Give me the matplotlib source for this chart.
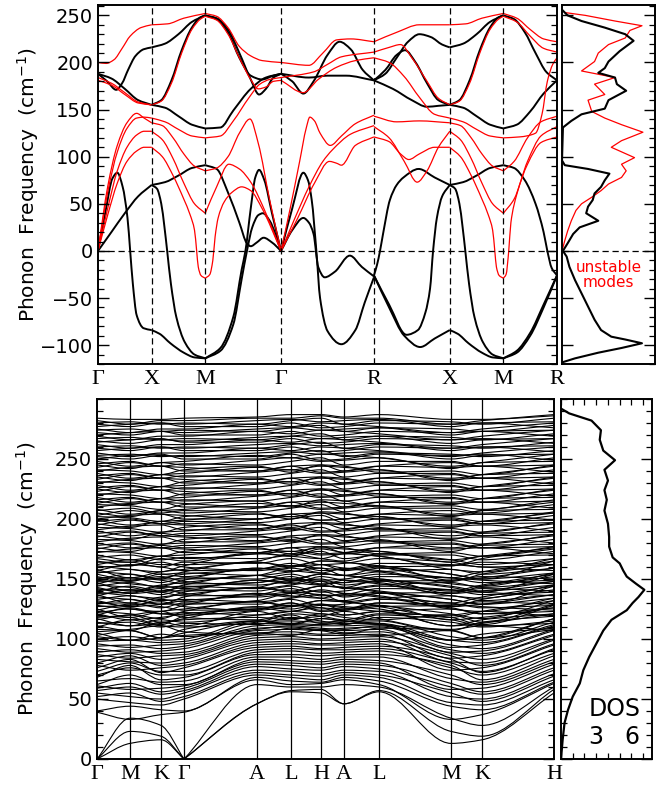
import numpy as np
import matplotlib
matplotlib.use("Agg")
import matplotlib.pyplot as plt
from matplotlib.path import Path
from matplotlib.patches import PathPatch
from matplotlib.ticker import MultipleLocator, FixedLocator

# ---------------- top panel: cubic path, two calculations ----------------
top_labels = ["Γ", "X", "M", "Γ", "R", "X", "M", "R"]
top_ticks = [0.0, 0.5, 1.0, 1.707, 2.573, 3.280, 3.780, 4.280]

# each band: (fraction along segment, frequency cm-1)
gx_black = [
    [(0, 188), (0.17, 180), (0.34, 171), (0.45, 178), (0.56, 192), (0.7, 207), (0.85, 214), (1, 216)],
    [(0, 188), (0.25, 183), (0.5, 172), (0.75, 160), (1, 155)],
    [(0, 0), (0.14, 42), (0.27, 77), (0.36, 83), (0.46, 68), (0.55, 35), (0.6, 0), (0.65, -35),
     (0.72, -68), (0.85, -82), (1, -84)],
    [(0, 0), (0.25, 20), (0.5, 40), (0.75, 58), (1, 70)],
]
gx_red = [
    [(0, 200), (0.15, 199), (0.3, 203), (0.45, 215), (0.6, 228), (0.8, 237), (1, 240)],
    [(0, 184), (0.25, 178), (0.5, 168), (0.75, 158), (1, 155)],
    [(0, 181), (0.25, 176), (0.5, 166), (0.75, 157), (1, 155)],
    [(0, 0), (0.18, 68), (0.36, 112), (0.54, 136), (0.72, 146), (0.86, 141), (1, 136)],
    [(0, 0), (0.18, 62), (0.36, 105), (0.54, 130), (0.72, 141), (0.86, 142), (1, 141)],
    [(0, 0), (0.18, 45), (0.36, 85), (0.54, 110), (0.72, 123), (0.86, 127), (1, 127)],
    [(0, 0), (0.18, 38), (0.36, 72), (0.54, 95), (0.72, 106), (0.86, 110), (1, 110)],
]
xm_black = [
    [(0, 216), (0.25, 220), (0.5, 230), (0.75, 243), (1, 250)],
    [(0, 155), (0.18, 160), (0.37, 181), (0.56, 213), (0.75, 237), (0.91, 248), (1, 250)],
    [(0, 155), (0.25, 152), (0.5, 143), (0.75, 134), (1, 130)],
    [(0, 70), (0.25, 73), (0.5, 80), (0.75, 88), (1, 91)],
    [(0, 70), (0.1, 66), (0.18, 50), (0.24, 25), (0.29, 0), (0.36, -35), (0.46, -70), (0.62, -97),
     (0.8, -110), (1, -114)],
    [(0, -84), (0.15, -88), (0.35, -98), (0.6, -108), (0.8, -113), (1, -114)],
]
xm_red = [
    [(0, 240), (0.3, 241), (0.6, 247), (1, 252)],
    [(0, 155), (0.18, 159), (0.37, 178), (0.56, 210), (0.75, 235), (0.91, 246), (1, 249)],
    [(0, 141), (0.25, 137), (0.5, 129), (0.75, 122), (1, 120)],
    [(0, 136), (0.2, 133), (0.4, 120), (0.6, 103), (0.8, 90), (1, 85)],
    [(0, 127), (0.2, 118), (0.4, 98), (0.6, 72), (0.8, 50), (1, 40)],
    [(0, 110), (0.2, 100), (0.4, 80), (0.6, 55), (0.72, 38), (0.8, 22), (0.84, 0), (0.87, -17),
     (0.92, -26), (1, -29)],
]
mg_black = [
    [(0, 250), (0.15, 247), (0.3, 235), (0.45, 210), (0.6, 182), (0.71, 166), (0.8, 172), (0.9, 184), (1, 188)],
    [(0, 250), (0.15, 246), (0.3, 232), (0.45, 205), (0.6, 186), (0.75, 182), (0.9, 186), (1, 188)],
    [(0, 130), (0.2, 131), (0.37, 149), (0.6, 172), (0.8, 184), (1, 188)],
    [(0, 91), (0.15, 87), (0.3, 62), (0.45, 30), (0.55, 8), (0.6, 5), (0.68, 9), (0.77, 14), (0.88, 9), (1, 0)],
    [(0, -114), (0.2, -103), (0.37, -70), (0.48, -20), (0.53, 0), (0.6, 45), (0.66, 78), (0.71, 86),
     (0.78, 75), (0.88, 40), (1, 0)],
    [(0, -114), (0.2, -106), (0.37, -78), (0.48, -30), (0.55, 0), (0.62, 25), (0.7, 38), (0.76, 40),
     (0.85, 32), (1, 0)],
]
mg_red = [
    [(0, 252), (0.15, 249), (0.3, 237), (0.45, 217), (0.6, 207), (0.75, 202), (1, 200)],
    [(0, 249), (0.15, 245), (0.3, 230), (0.45, 205), (0.6, 182), (0.7, 172), (0.8, 174), (0.9, 180), (1, 181)],
    [(0, 120), (0.2, 122), (0.37, 138), (0.58, 163), (0.72, 177), (0.85, 182), (1, 184)],
    [(0, 85), (0.15, 88), (0.3, 100), (0.45, 125), (0.59, 140), (0.7, 114), (0.85, 54), (1, 0)],
    [(0, 40), (0.15, 68), (0.31, 92), (0.45, 87), (0.6, 73), (0.8, 40), (1, 0)],
    [(0, -29), (0.06, -25), (0.1, -10), (0.13, 15), (0.17, 35), (0.25, 52), (0.35, 62), (0.48, 68),
     (0.6, 64), (0.75, 45), (1, 0)],
]
gr_black = [
    [(0, 188), (0.3, 184), (0.5, 186), (0.7, 186), (1, 181)],
    [(0, 188), (0.12, 180), (0.24, 167), (0.35, 180), (0.5, 208), (0.63, 222), (0.75, 214), (0.88, 192), (1, 181)],
    [(0, 0), (0.12, 45), (0.24, 83), (0.29, 75), (0.33, 54), (0.38, 0), (0.42, -50), (0.5, -85),
     (0.65, -99), (0.8, -84), (0.9, -55), (1, -28)],
    [(0, 0), (0.12, 22), (0.24, 35), (0.3, 30), (0.35, 18), (0.4, -17), (0.47, -28), (0.58, -22),
     (0.74, -5), (0.87, -17), (1, -27)],
]
gr_red = [
    [(0, 200), (0.3, 197), (0.45, 210), (0.6, 224), (0.75, 225), (1, 222)],
    [(0, 184), (0.35, 190), (0.5, 198), (0.65, 206), (1, 211)],
    [(0, 181), (0.24, 168), (0.4, 182), (0.6, 195), (0.8, 202), (1, 205)],
    [(0, 0), (0.1, 46), (0.2, 95), (0.27, 130), (0.31, 142), (0.36, 138), (0.42, 125), (0.53, 112),
     (0.65, 122), (0.8, 135), (1, 144)],
    [(0, 0), (0.15, 35), (0.3, 68), (0.45, 95), (0.55, 107), (0.75, 124), (1, 133)],
    [(0, 0), (0.18, 35), (0.36, 72), (0.52, 95), (0.6, 93), (0.65, 91), (0.8, 112), (1, 121)],
]
rx_black = [
    [(0, 181), (0.15, 188), (0.3, 205), (0.45, 222), (0.6, 230), (0.75, 227), (0.9, 219), (1, 216)],
    [(0, 181), (0.15, 192), (0.3, 208), (0.41, 213), (0.55, 200), (0.7, 178), (0.85, 160), (1, 155)],
    [(0, 181), (0.25, 172), (0.5, 160), (0.7, 153), (0.85, 154), (1, 155)],
    [(0, -26), (0.04, -15), (0.08, 0), (0.12, 18), (0.21, 54), (0.3, 70), (0.39, 78), (0.59, 87),
     (0.8, 78), (1, 70)],
    [(0, -26), (0.2, -57), (0.43, -89), (0.58, -84), (0.68, -65), (0.74, -40), (0.78, 0), (0.83, 35),
     (0.9, 58), (1, 70)],
    [(0, -26), (0.2, -60), (0.4, -90), (0.61, -102), (0.8, -93), (1, -84)],
]
rx_red = [
    [(0, 222), (0.3, 232), (0.6, 240), (1, 240)],
    [(0, 211), (0.2, 216), (0.35, 219), (0.5, 205), (0.7, 180), (0.85, 162), (1, 155)],
    [(0, 205), (0.2, 200), (0.4, 185), (0.6, 163), (0.8, 145), (1, 141)],
    [(0, 143), (0.3, 137), (0.6, 138), (1, 136)],
    [(0, 132), (0.2, 120), (0.4, 95), (0.57, 73), (0.7, 85), (0.85, 110), (1, 127)],
    [(0, 121), (0.2, 116), (0.35, 103), (0.46, 97), (0.6, 103), (0.8, 110), (1, 110)],
]
mr_black = [
    [(0, 250), (0.2, 246), (0.4, 232), (0.6, 210), (0.8, 190), (1, 181)],
    [(0, 130), (0.25, 134), (0.5, 148), (0.75, 167), (1, 181)],
    [(0, 91), (0.2, 88), (0.4, 75), (0.6, 50), (0.75, 20), (0.82, 0), (0.9, -18), (1, -26)],
    [(0, -114), (0.25, -108), (0.5, -90), (0.75, -60), (1, -26)],
    [(0, -114), (0.25, -106), (0.5, -87), (0.75, -57), (1, -26)],
]
mr_red = [
    [(0, 252), (0.25, 247), (0.5, 235), (0.75, 225), (1, 222)],
    [(0, 249), (0.25, 243), (0.5, 228), (0.75, 215), (1, 211)],
    [(0, 120), (0.3, 121), (0.6, 125), (0.72, 145), (0.82, 180), (0.92, 198), (1, 205)],
    [(0, 85), (0.2, 95), (0.45, 120), (0.7, 137), (1, 143)],
    [(0, 40), (0.2, 55), (0.45, 95), (0.7, 122), (1, 132)],
    [(0, -29), (0.05, -25), (0.1, 0), (0.14, 30), (0.25, 60), (0.45, 92), (0.7, 115), (1, 121)],
]
top_segments = [(gx_black, gx_red), (xm_black, xm_red), (mg_black, mg_red), (gr_black, gr_red),
                (rx_black, rx_red), (xm_black, xm_red), (mr_black, mr_red)]

# top DOS (arb. units)
dos_top_freq_black = [-118, -114, -108, -103, -98, -94, -91, -84, -73, -59, -45, -31, -17, -6, 0, 8, 18,
                      25, 32, 40, 47, 54, 61, 68, 75, 82, 87, 91, 96, 131, 138, 145, 151, 160, 170,
                      177, 184, 189, 194, 201, 212, 223, 230, 237, 244, 250, 255]
dos_top_black = [0.1, 1.4, 3.9, 6.4, 8.6, 6.8, 5.3, 4.2, 3.5, 2.8, 2.1, 1.4, 0.8, 0.5, 0.1, 0.6, 1.2,
                 1.9, 3.9, 2.6, 2.8, 3.3, 3.5, 4.2, 4.6, 5.1, 2.8, 0.3, 0, 0.1, 1.0, 2.1, 4.6, 5.0, 6.9,
                 5.9, 5.7, 3.9, 4.6, 5.0, 6.2, 7.7, 6.8, 4.6, 2.1, 0.6, 0.1]
dos_top_freq_red = [0, 11, 21, 32, 43, 50, 57, 64, 71, 78, 85, 92, 99, 110, 117, 126, 134, 141, 148,
                    160, 166, 177, 184, 191, 201, 210, 219, 226, 234, 239, 244, 250, 253]
dos_top_red = [0, 0.3, 0.6, 1.0, 1.5, 2.1, 3.2, 4.2, 5.0, 6.4, 6.9, 6.4, 7.8, 5.3, 6.4, 8.7, 6.4, 4.6,
               3.2, 2.8, 4.6, 3.5, 5.7, 2.1, 3.5, 3.9, 5.0, 6.8, 7.3, 8.6, 5.7, 2.5, 0.3]

# ---------------- bottom panel: hexagonal path ----------------
bot_labels = ["Γ", "M", "K", "Γ", "A", "L", "H", "A", "L", "M", "K", "H"]
bot_ticks = [0, 33, 64, 87, 160, 194, 224, 247, 282, 354, 385, 457]
# band frequencies at (Γ, M, K, A, L, H)
hex_bands = [
    (0, 13, 16, 46, 56, 55), (0, 23, 19, 46, 57, 58), (0, 34, 28, 62, 60, 60),
    (39, 33, 37, 66, 62, 63), (40, 44, 41, 68, 65, 64), (50, 47, 45, 70, 68, 66),
    (52, 55, 48, 72, 70, 69), (55, 52, 50, 74, 73, 71), (57, 60, 54, 77, 75, 74),
    (59, 63, 56, 79, 78, 76), (61, 58, 59, 81, 80, 79), (62, 70, 62, 83, 82, 81),
    (65, 67, 64, 85, 85, 83), (68, 78, 66, 87, 87, 86), (70, 76, 70, 89, 90, 88),
    (73, 80, 73, 91, 92, 91),
    (76, 83, 72, 93, 94, 92), (78, 74, 76, 95, 96, 95), (80, 86, 78, 97, 98, 96),
    (83, 81, 80, 99, 100, 99), (85, 88, 83, 101, 102, 100), (87, 84, 86, 103, 104, 103),
    (89, 91, 88, 105, 106, 104), (92, 89, 90, 107, 108, 107), (94, 95, 92, 109, 110, 108),
    (96, 93, 95, 111, 112, 111), (98, 99, 97, 113, 113, 112), (100, 102, 99, 115, 115, 114),
    (102, 99, 104, 108, 111, 109), (103, 107, 101, 105, 103, 108), (105, 99, 101, 115, 113, 117),
    (106, 108, 111, 104, 109, 107), (108, 107, 101, 115, 112, 117), (110, 116, 111, 114, 120, 113),
    (111, 107, 114, 123, 117, 119), (113, 114, 110, 112, 118, 115), (114, 111, 116, 120, 123, 121),
    (116, 120, 114, 118, 116, 121), (117, 111, 113, 127, 125, 129), (118, 120, 123, 116, 121, 119),
    (119, 118, 112, 126, 123, 128), (120, 126, 121, 124, 130, 123),
    (121, 116, 118, 125, 128, 126), (122, 125, 121, 120, 123, 126), (123, 121, 117, 131, 128, 132),
    (124, 129, 127, 125, 130, 124), (125, 118, 123, 131, 127, 132), (127, 128, 131, 124, 127, 129),
    (128, 125, 123, 138, 136, 134), (129, 133, 129, 132, 138, 134), (130, 130, 126, 129, 133, 128),
    (131, 127, 133, 138, 135, 141), (132, 127, 129, 136, 139, 137), (133, 136, 132, 131, 134, 137),
    (135, 133, 129, 143, 140, 144), (136, 141, 139, 137, 142, 136), (137, 130, 135, 143, 139, 144),
    (138, 139, 142, 135, 138, 140), (139, 136, 134, 149, 147, 145), (140, 144, 140, 143, 149, 145),
    (141, 141, 137, 140, 144, 139), (142, 138, 144, 149, 146, 152), (143, 138, 140, 147, 150, 148),
    (144, 147, 143, 142, 145, 148), (145, 143, 139, 153, 150, 154), (146, 151, 149, 147, 152, 146),
    (147, 140, 145, 153, 149, 154), (148, 149, 152, 145, 148, 150), (149, 146, 144, 159, 157, 155),
    (150, 154, 150, 153, 159, 155), (151, 151, 147, 150, 154, 149), (152, 148, 154, 159, 156, 162),
    (154, 149, 151, 158, 161, 159), (155, 158, 154, 153, 156, 159), (156, 154, 150, 164, 161, 165),
    (157, 162, 160, 158, 163, 157), (158, 151, 156, 164, 160, 165), (160, 161, 164, 157, 160, 162),
    (161, 158, 156, 171, 169, 167), (162, 166, 162, 165, 171, 167), (164, 164, 160, 163, 167, 162),
    (165, 161, 167, 172, 169, 175),
    (167, 164, 169, 171, 173, 170), (168, 170, 166, 167, 170, 173), (170, 166, 169, 175, 173, 176),
    (172, 175, 176, 172, 176, 171), (173, 172, 169, 176, 171, 177), (175, 179, 176, 172, 176, 177),
    (176, 173, 178, 180, 182, 179), (178, 180, 176, 177, 180, 183), (180, 176, 179, 185, 183, 186),
    (181, 184, 185, 181, 185, 180), (183, 182, 179, 186, 181, 187), (185, 189, 186, 182, 186, 187),
    (186, 183, 188, 190, 192, 189), (188, 190, 186, 187, 190, 193), (190, 186, 189, 195, 193, 196),
    (191, 194, 195, 191, 195, 190), (193, 192, 189, 196, 191, 197), (195, 199, 196, 192, 196, 197),
    (196, 193, 198, 200, 202, 199), (198, 200, 196, 197, 200, 203), (199, 195, 198, 204, 202, 205),
    (200, 203, 204, 200, 204, 199),
    (202, 201, 198, 205, 200, 206), (203, 207, 204, 200, 204, 205), (205, 202, 207, 209, 211, 208),
    (207, 209, 205, 206, 209, 212), (208, 204, 207, 213, 211, 214), (210, 213, 214, 210, 214, 209),
    (212, 211, 208, 215, 210, 216), (213, 217, 214, 210, 214, 215), (215, 212, 217, 219, 221, 218),
    (216, 218, 214, 215, 218, 221), (218, 214, 217, 223, 221, 224), (220, 223, 224, 220, 224, 219),
    (221, 220, 217, 224, 219, 225), (223, 227, 224, 220, 224, 225), (225, 222, 227, 229, 231, 228),
    (226, 228, 224, 225, 228, 231), (228, 224, 227, 233, 231, 234), (230, 233, 234, 230, 234, 229),
    (231, 230, 227, 234, 229, 235), (233, 237, 234, 230, 234, 235), (235, 232, 237, 239, 241, 238),
    (236, 238, 234, 235, 238, 241), (238, 234, 237, 243, 241, 244), (240, 243, 244, 240, 244, 239),
    (241, 240, 237, 244, 239, 245), (243, 247, 244, 240, 244, 245), (245, 242, 247, 249, 251, 248),
    (246, 248, 244, 245, 248, 251), (248, 244, 247, 253, 251, 254), (250, 253, 254, 250, 254, 249),
    (252, 250, 253, 255, 256, 254), (253, 254, 252, 252, 255, 257), (255, 252, 255, 259, 257, 260),
    (257, 259, 260, 257, 260, 256), (259, 257, 260, 262, 263, 261), (260, 261, 259, 259, 262, 264),
    (262, 259, 262, 266, 264, 267), (264, 266, 267, 264, 267, 263), (265, 263, 266, 268, 269, 267),
    (267, 268, 266, 266, 269, 271), (269, 266, 269, 273, 271, 274), (270, 272, 273, 270, 273, 269),
    (272, 270, 273, 275, 276, 274), (274, 275, 273, 273, 276, 278), (275, 272, 275, 279, 277, 280),
    (277, 279, 280, 277, 280, 276), (279, 277, 280, 282, 283, 281), (280, 281, 279, 279, 282, 284),
    (282, 279, 282, 284, 284, 286), (284, 283, 283, 285, 287, 287),
]

dos_bot_freq = [0, 16, 30, 41, 52, 63, 74, 85, 96, 107, 116, 124, 130, 135, 141, 146, 152, 157, 163,
                168, 177, 185, 196, 207, 216, 224, 232, 241, 249, 257, 266, 274, 282, 288, 292]
dos_bot = [0, 0.14, 0.3, 0.6, 1.0, 1.6, 1.9, 2.4, 3.0, 3.6, 4.3, 5.6, 6.1, 6.6, 7.1, 6.4, 5.6, 5.3,
           5.0, 4.4, 4.1, 4.1, 4.0, 3.7, 3.9, 3.7, 4.0, 3.7, 4.6, 3.6, 3.3, 3.4, 2.6, 0.7, 0]


def smooth_path(xs, ys):
    """Monotone cubic Bezier path through the knots (drawn by matplotlib)."""
    x = np.asarray(xs, float)
    y = np.asarray(ys, float)
    h = np.diff(x)
    d = np.diff(y) / h
    m = np.zeros(len(x))
    m[0], m[-1] = d[0], d[-1]
    for i in range(1, len(x) - 1):
        if d[i - 1] * d[i] > 0:
            w1, w2 = 2 * h[i] + h[i - 1], h[i] + 2 * h[i - 1]
            m[i] = (w1 + w2) / (w1 / d[i - 1] + w2 / d[i])
    verts = [(x[0], y[0])]
    codes = [Path.MOVETO]
    for i in range(len(x) - 1):
        verts += [(x[i] + h[i] / 3, y[i] + m[i] * h[i] / 3),
                  (x[i + 1] - h[i] / 3, y[i + 1] - m[i + 1] * h[i] / 3),
                  (x[i + 1], y[i + 1])]
        codes += [Path.CURVE4] * 3
    return Path(verts, codes)


def draw_curve(ax, xs, ys, color, lw):
    ax.add_patch(PathPatch(smooth_path(xs, ys), fill=False, edgecolor=color, lw=lw))


def style_y(ax, major_ticks, right_minor=True, left_minor=True):
    ax.yaxis.set_major_locator(FixedLocator(major_ticks))
    ax.yaxis.set_minor_locator(MultipleLocator(10))
    ax.tick_params(axis="y", which="major", direction="in", length=8, width=1.0,
                   left=True, right=True, labelsize=14)
    ax.tick_params(axis="y", which="minor", direction="in", length=4.5, width=0.9,
                   left=left_minor, right=right_minor)
    for s in ax.spines.values():
        s.set_linewidth(1.4)


W, H = 668, 787
fig = plt.figure(figsize=(W / 100, H / 100), dpi=100)

def add_ax(l, t, r, b):
    return fig.add_axes([l / W, 1 - b / H, (r - l) / W, (b - t) / H])

ylabel = "Phonon  Frequency  (cm$^{-1}$)"
serif = {"family": "Liberation Serif", "size": 16}
top_major = [-100, -50, 0, 50, 100, 150, 200, 250]
bot_major = [0, 50, 100, 150, 200, 250]

# ---- top band structure ----
ax1 = add_ax(98, 5, 557, 364)
for i, (blacks, reds) in enumerate(top_segments):
    x0, x1 = top_ticks[i], top_ticks[i + 1]
    for band in blacks:
        t, v = zip(*band)
        draw_curve(ax1, x0 + (x1 - x0) * np.array(t), v, "black", 1.4)
    for band in reds:
        t, v = zip(*band)
        draw_curve(ax1, x0 + (x1 - x0) * np.array(t), v, "#ff0000", 0.9)
for xt in top_ticks[1:-1]:
    ax1.axvline(xt, color="black", lw=0.9, ls=(0, (5, 3)))
ax1.axhline(0, color="black", lw=0.9, ls=(0, (5, 3)))
ax1.set_xlim(top_ticks[0], top_ticks[-1])
ax1.set_ylim(-120, 261)
ax1.set_xticks(top_ticks)
ax1.set_xticklabels(top_labels, fontdict=serif)
ax1.tick_params(axis="x", length=0, pad=4)
style_y(ax1, top_major)
ax1.set_ylabel(ylabel, fontsize=14.5)
ax1.yaxis.set_label_coords(-0.125, 0.5)

# ---- top DOS ----
ax2 = add_ax(562, 5, 655, 364)
ax2.plot(dos_top_red, dos_top_freq_red, color="#ff0000", lw=0.9)
ax2.plot(dos_top_black, dos_top_freq_black, color="black", lw=1.5)
ax2.axhline(0, color="black", lw=0.9, ls=(0, (5, 3)))
ax2.set_xlim(0, 10)
ax2.set_ylim(-120, 261)
ax2.set_xticks([])
style_y(ax2, top_major, left_minor=False)
ax2.tick_params(axis="y", labelleft=False)
ax2.text(5.0, -26, "unstable\nmodes", color="#ff0000", ha="center", va="center",
         fontsize=11, linespacing=1.0)

# ---- bottom band structure ----
ax3 = add_ax(97, 399, 554, 759)
for g, m, k, a, l, h in hex_bands:
    ys = [g, m, k, g, a, l, h, a, l, m, k, h]
    cuts = [0] + [i for i in range(1, len(ys) - 1) if ys[i] == 0] + [len(ys) - 1]
    for c0, c1 in zip(cuts[:-1], cuts[1:]):
        draw_curve(ax3, bot_ticks[c0:c1 + 1], ys[c0:c1 + 1], "black", 0.8)
for xt in bot_ticks[1:-1]:
    ax3.axvline(xt, color="black", lw=0.9)
ax3.set_xlim(bot_ticks[0], bot_ticks[-1])
ax3.set_ylim(0, 300)
ax3.set_xticks(bot_ticks)
ax3.set_xticklabels(bot_labels, fontdict=serif)
ax3.tick_params(axis="x", length=0, pad=4)
style_y(ax3, bot_major)
ax3.set_ylabel(ylabel, fontsize=14.5)
ax3.yaxis.set_label_coords(-0.125, 0.5)

# ---- bottom DOS ----
ax4 = add_ax(561, 399, 652, 759)
ax4.plot(dos_bot, dos_bot_freq, color="black", lw=1.6)
ax4.set_xlim(0, 7.75)
ax4.set_ylim(0, 300)
style_y(ax4, bot_major)
ax4.tick_params(axis="y", labelleft=False)
ax4.xaxis.set_major_locator(MultipleLocator(1))
ax4.tick_params(axis="x", direction="in", length=4, width=0.9, top=True, bottom=True,
                labelbottom=False)
ax4.text(4.6, 42, "DOS", fontsize=17, ha="center", va="center")
ax4.text(3, 18, "3", fontsize=17, ha="center", va="center")
ax4.text(6, 18, "6", fontsize=17, ha="center", va="center")

fig.savefig("out.png", dpi=100)
